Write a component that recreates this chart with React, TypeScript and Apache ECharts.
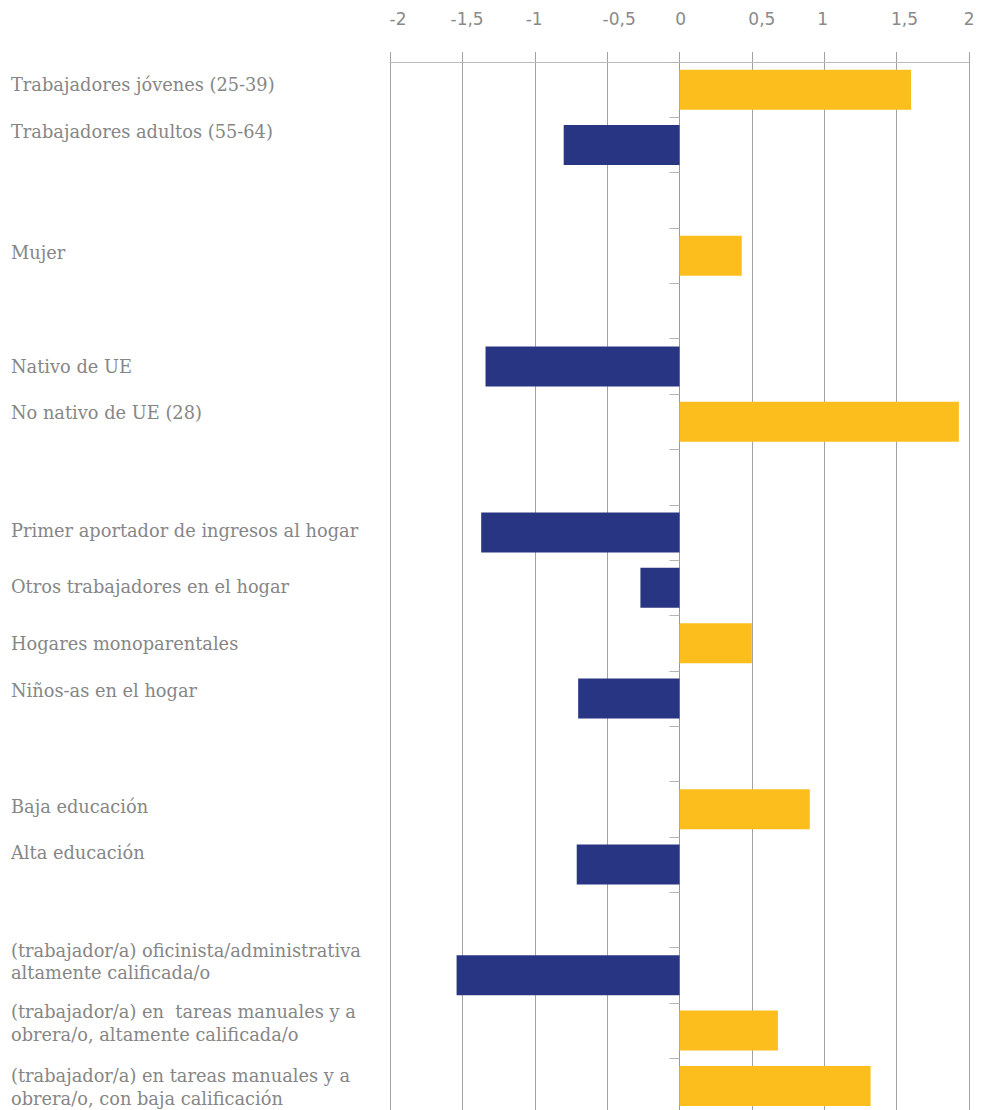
import React, { useEffect, useRef } from 'react';
import * as echarts from 'echarts';

const categories = [
  'Trabajadores jóvenes (25-39)',
  'Trabajadores adultos (55-64)',
  ' ',
  'Mujer',
  '  ',
  'Nativo de UE',
  'No nativo de UE (28)',
  '   ',
  'Primer aportador de ingresos al hogar',
  'Otros trabajadores en el hogar',
  'Hogares monoparentales',
  'Niños-as en el hogar',
  '    ',
  'Baja educación',
  'Alta educación',
  '     ',
  '(trabajador/a) oficinista/administrativa\naltamente calificada/o',
  '(trabajador/a) en  tareas manuales y a\nobrera/o, altamente calificada/o',
  '(trabajador/a) en tareas manuales y a\nobrera/o, con baja calificación',
];

const values: (number | null)[] = [
  1.6, -0.8, null, 0.43, null, -1.34, 1.93, null, -1.37, -0.27, 0.5, -0.7, null,
  0.9, -0.71, null, -1.54, 0.68, 1.32,
];

const tickValues = [-2, -1.5, -1, -0.5, 0, 0.5, 1, 1.5, 2];
const tickLabels = ['-2', '-1,5', '-1', '-0,5', '0', '0,5', '1', '1,5', '2'];

// layout-only offsets (px) reproducing the reference's label placement
const tickLabelShift = [8, 4.7, -0.6, 12, 1.2, 10, -1.5, 7.8, 0.2];
const labelShift = [-4.7, -13.3, 0, -2.9, 0, 0.4, -9, 0, -1.5, -1, 0, -7.5, 0, -2.3, -11.6, 0, -14, -7.5, 1];

const YELLOW = '#FBBE1C';
const NAVY = '#283583';
const LABEL_FONT = '"DejaVu Serif", serif';
const TICK_FONT = '"DejaVu Sans", sans-serif';
const LABEL_SIZE = 17.8;
const LABEL_LH = 22.3;
const LABEL_COLOR = '#868686';
const GRID_COLOR = '#a2a2a2';

export default function App() {
  const ref = useRef<HTMLDivElement>(null);
  useEffect(() => {
    const chart = echarts.init(ref.current as HTMLDivElement, null, { renderer: 'svg' });

    const tickRich: Record<string, any> = {};
    tickLabelShift.forEach((s, i) => {
      tickRich['t' + i] = {
        padding: s >= 0 ? [0, 0, 0, 2 * s] : [0, -2 * s, 0, 0],
        fontSize: 17,
        fontFamily: TICK_FONT,
        color: '#8a8a8a',
      };
    });

    const baseLabel = {
      fontSize: LABEL_SIZE,
      lineHeight: LABEL_LH,
      fontFamily: LABEL_FONT,
      color: LABEL_COLOR,
      align: 'left',
    };
    const catRich: Record<string, any> = { n: { ...baseLabel } };
    labelShift.forEach((s, i) => {
      catRich['s' + i] = {
        ...baseLabel,
        padding: s < 0 ? [0, 0, -2 * s, 0] : [2 * s, 0, 0, 0],
      };
    });

    const catFormatter = (value: string, index: number) => {
      const lines = String(value).split('\n');
      const s = labelShift[index] || 0;
      const style = s !== 0 ? 's' + index : 'n';
      return lines.map((ln) => `{${style}|${ln}}`).join('\n');
    };

    chart.setOption({
      animation: false,
      grid: {
        left: 390,
        right: 13,
        top: 62,
        bottom: -3.6,
        containLabel: false,
        outerBoundsMode: 'none',
      },
      xAxis: {
        type: 'value',
        position: 'top',
        min: -2,
        max: 2,
        interval: 0.5,
        axisLine: { show: true, lineStyle: { color: '#bbbbbb', width: 1 } },
        axisTick: { show: true, length: 10, lineStyle: { color: GRID_COLOR } },
        splitLine: { show: true, lineStyle: { color: GRID_COLOR, width: 1 } },
        axisLabel: {
          margin: 43,
          verticalAlign: 'middle',
          formatter: (v: number) => {
            const i = tickValues.findIndex((t) => Math.abs(t - v) < 1e-9);
            return i < 0 ? '' : `{t${i}|${tickLabels[i]}}`;
          },
          rich: tickRich,
        },
      },
      yAxis: [
        {
          type: 'category',
          inverse: true,
          position: 'left',
          data: categories,
          axisLine: { show: true, onZero: true, lineStyle: { color: '#999999', width: 1 } },
          axisTick: { show: true, length: 10, lineStyle: { color: '#b5b5b5' } },
          axisLabel: { show: false },
          splitLine: { show: false },
        },
        {
          type: 'category',
          inverse: true,
          position: 'left',
          data: categories,
          axisLine: { show: false, onZero: false },
          axisTick: { show: false },
          splitLine: { show: false },
          axisLabel: {
            show: true,
            interval: 0,
            align: 'left',
            verticalAlign: 'middle',
            margin: 379,
            ...baseLabel,
            formatter: catFormatter,
            rich: catRich,
          },
        },
      ],
      series: [
        {
          type: 'bar',
          yAxisIndex: 0,
          data: values,
          barWidth: 40,
          itemStyle: {
            color: (p: any) => ((p.value as number) >= 0 ? YELLOW : NAVY),
          },
        },
      ],
    });
    return () => chart.dispose();
  }, []);
  return (
    <div
      ref={ref}
      style={{ position: 'fixed', left: 0, top: 0, width: 982, height: 1110, background: '#ffffff' }}
    />
  );
}
